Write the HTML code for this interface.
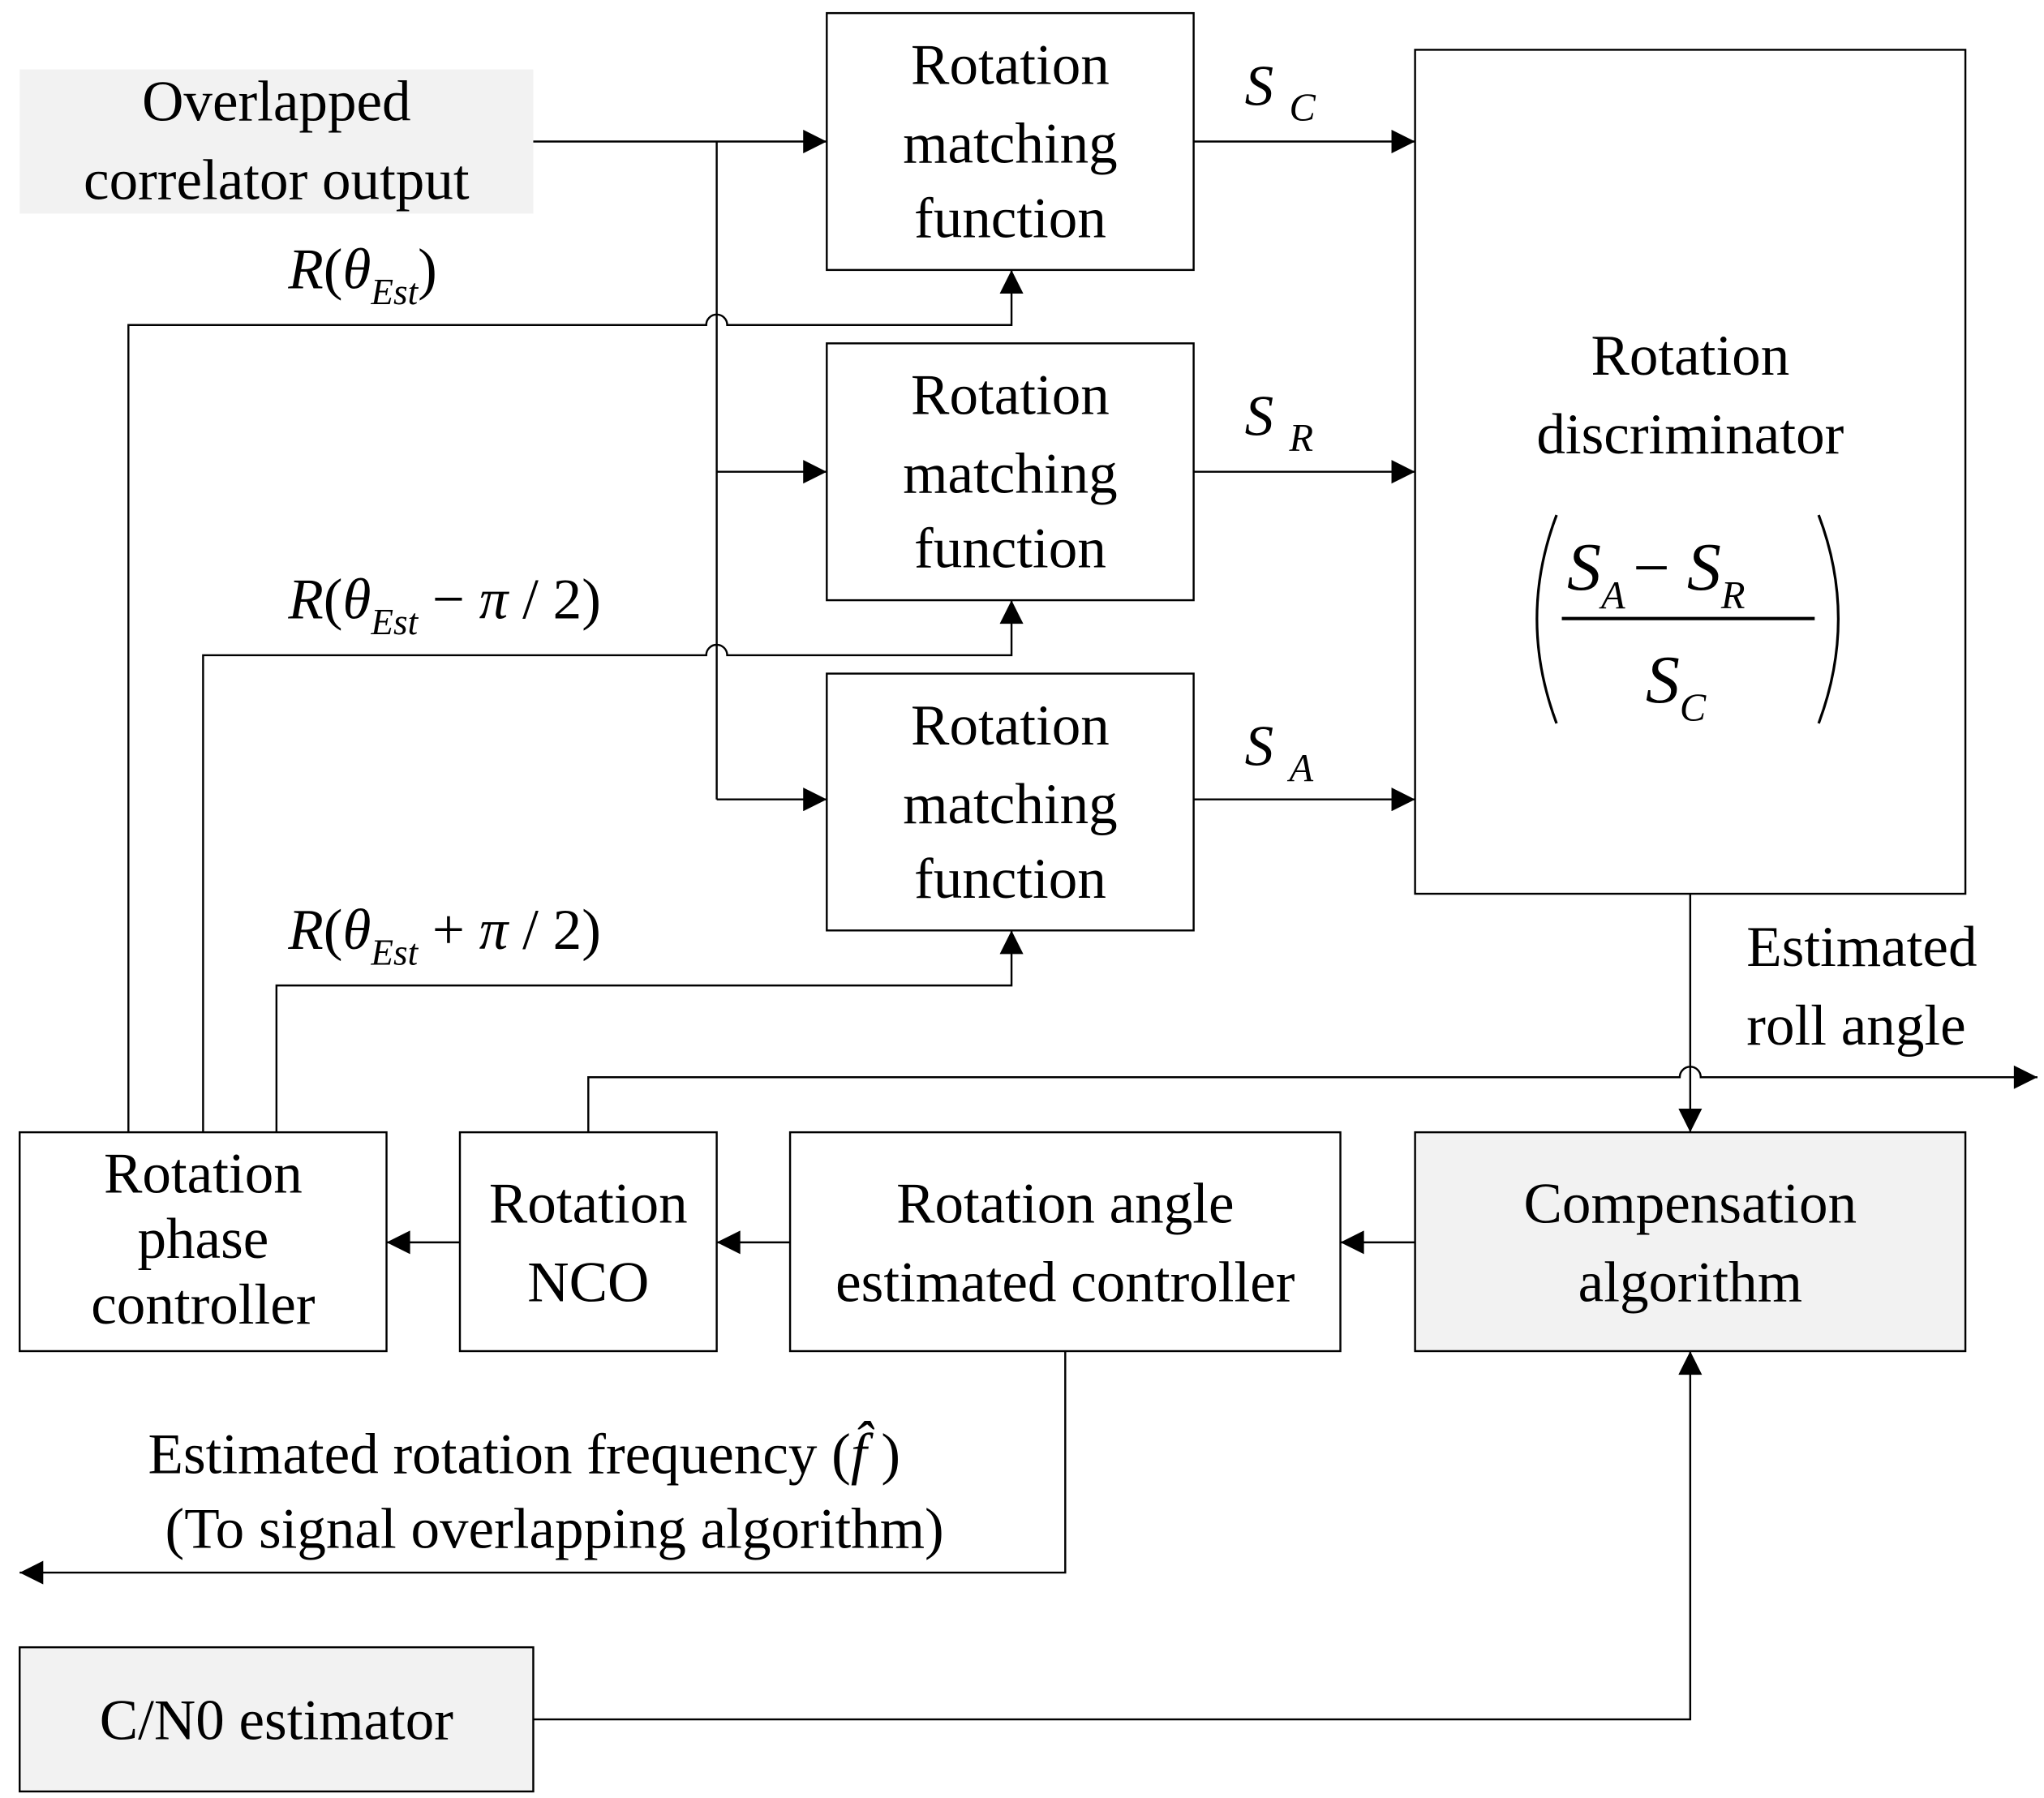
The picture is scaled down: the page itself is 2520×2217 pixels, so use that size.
<!DOCTYPE html>
<html><head><style>html,body{margin:0;padding:0;background:#fff}svg{display:block}</style></head>
<body>
<svg width="2520" height="2217" viewBox="0 0 1560 1372" preserveAspectRatio="none" xmlns="http://www.w3.org/2000/svg" font-family="Liberation Serif, serif" font-size="44">
<defs><marker id="a" viewBox="0 0 10 10" refX="10" refY="5" markerWidth="26" markerHeight="18" markerUnits="userSpaceOnUse" orient="auto"><path d="M0,0L10,5L0,10z" fill="#000"/></marker></defs>
<g fill="none" stroke="#000" stroke-width="1.5">
<rect x="15" y="53" width="392" height="110" fill="#f2f2f2" stroke="none"/>
<rect x="631" y="10" width="280" height="196"/>
<rect x="631" y="262" width="280" height="196"/>
<rect x="631" y="514" width="280" height="196"/>
<rect x="1080" y="38" width="420" height="644"/>
<rect x="15" y="864" width="280" height="167"/>
<rect x="351" y="864" width="196" height="167"/>
<rect x="603" y="864" width="420" height="167"/>
<rect x="1080" y="864" width="420" height="167" fill="#f2f2f2"/>
<rect x="15" y="1257" width="392" height="110" fill="#f2f2f2"/>
<path d="M407,108H631" marker-end="url(#a)"/>
<path d="M547,108V610"/>
<path d="M547,360H631" marker-end="url(#a)"/>
<path d="M547,610H631" marker-end="url(#a)"/>
<path d="M911,108H1080" marker-end="url(#a)"/>
<path d="M911,360H1080" marker-end="url(#a)"/>
<path d="M911,610H1080" marker-end="url(#a)"/>
<path d="M98,864V248H539a8,8 0 0 1 16,0H772V206" marker-end="url(#a)"/>
<path d="M155,864V500H539a8,8 0 0 1 16,0H772V458" marker-end="url(#a)"/>
<path d="M211,864V752H772V710" marker-end="url(#a)"/>
<path d="M449,864V822H1282a8,8 0 0 1 16,0H1555" marker-end="url(#a)"/>
<path d="M1290,682V864" marker-end="url(#a)"/>
<path d="M1080,948H1023" marker-end="url(#a)"/>
<path d="M603,948H547" marker-end="url(#a)"/>
<path d="M351,948H295" marker-end="url(#a)"/>
<path d="M813,1031V1200H15" marker-end="url(#a)"/>
<path d="M407,1312H1290V1031" marker-end="url(#a)"/>
<path d="M1192,472H1385" stroke-width="2.5"/>
<path d="M1188,393Q1158,472 1188,552" stroke-width="2"/>
<path d="M1388,393Q1418,472 1388,552" stroke-width="2"/>
</g>
<g text-anchor="middle">
<text x="211" y="92">Overlapped</text><text x="211" y="152">correlator output</text>
<text x="771" y="64">Rotation</text><text x="771" y="124">matching</text><text x="771" y="181">function</text>
<text x="771" y="316">Rotation</text><text x="771" y="376">matching</text><text x="771" y="433">function</text>
<text x="771" y="568">Rotation</text><text x="771" y="628">matching</text><text x="771" y="685">function</text>
<text x="1290" y="286">Rotation</text><text x="1290" y="346">discriminator</text>
<text x="155" y="910">Rotation</text><text x="155" y="960">phase</text><text x="155" y="1010">controller</text>
<text x="449" y="933">Rotation</text><text x="449" y="993">NCO</text>
<text x="813" y="933">Rotation angle</text><text x="813" y="993">estimated controller</text>
<text x="1290" y="933">Compensation</text><text x="1290" y="993">algorithm</text>
<text x="211" y="1327">C/N0 estimator</text>
</g>
<text x="1333" y="737">Estimated</text><text x="1333" y="797">roll angle</text>
<text x="113" y="1124">Estimated rotation frequency (<tspan font-style="italic">f̂</tspan> )</text>
<text x="126" y="1181">(To signal overlapping algorithm)</text>
<g font-style="italic">
<text x="950" y="80">S<tspan font-size="30" dx="12" dy="12">C</tspan></text>
<text x="950" y="332">S<tspan font-size="30" dx="12" dy="12">R</tspan></text>
<text x="950" y="584">S<tspan font-size="30" dx="12" dy="12">A</tspan></text>
<text x="1196" y="450" font-size="52">S<tspan font-size="30" dx="0" dy="14">A</tspan><tspan font-style="normal" font-size="50" dx="6" dy="-14">−</tspan> S<tspan font-size="30" dy="14">R</tspan></text>
<text x="1256" y="536" font-size="52">S<tspan font-size="30" dy="14">C</tspan></text>
<text x="220" y="220">R<tspan font-style="normal">(</tspan>θ<tspan font-size="28" dy="12">Est</tspan><tspan font-style="normal" dy="-12">)</tspan></text>
<text x="220" y="472">R<tspan font-style="normal">(</tspan>θ<tspan font-size="28" dy="12">Est</tspan><tspan font-style="normal" dy="-12"> − </tspan>π<tspan font-style="normal"> / 2)</tspan></text>
<text x="220" y="724">R<tspan font-style="normal">(</tspan>θ<tspan font-size="28" dy="12">Est</tspan><tspan font-style="normal" dy="-12"> + </tspan>π<tspan font-style="normal"> / 2)</tspan></text>
</g>
</svg>
</body></html>
